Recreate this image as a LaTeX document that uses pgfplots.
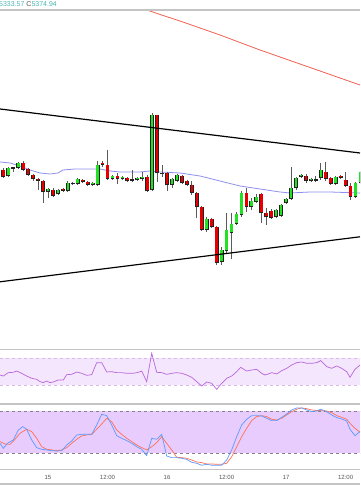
\documentclass[border=0pt]{standalone}
\usepackage{fontspec}
\setmainfont{Liberation Sans}
\usepackage{pgfplots}
\usepackage{pgfplotstable}
\pgfplotsset{compat=1.18}
\definecolor{wickc}{HTML}{5A5A5A}
\definecolor{outc}{HTML}{222222}
\definecolor{cgreen}{HTML}{22E022}
\definecolor{cred}{HTML}{E80000}
\definecolor{mablue}{HTML}{8F8FEF}
\definecolor{mared}{HTML}{F26152}
\definecolor{rsifill}{HTML}{F4E6FC}
\definecolor{rsidash}{HTML}{D9B7EA}
\definecolor{rsiline}{HTML}{B867DC}
\definecolor{stfill}{HTML}{E8CCFD}
\definecolor{stdash}{HTML}{8A7F8F}
\definecolor{stk}{HTML}{5B9BFF}
\definecolor{std}{HTML}{FF6F55}
\definecolor{framec}{HTML}{C4C4C4}
\definecolor{labc}{HTML}{555555}
\definecolor{teal}{HTML}{4DB6B6}

% candles: h = hour from day 15 00:00; t/b = body top/bottom, wt/wb = wick top/bottom (chart px, measured downward)
\pgfplotstableread{
h t b wt wb
-8 168 176 167 177
-6 163 168 162 169
0 189 192 188 198
2 190 194 189 195
4 183 191 181 192
6 179 184 178 185
9 183 185 182 186
10 165 185 161 186
13 176 179 175 180
15 177 179 176 180
18 178 180 177 181
19 177 179 172 181
21 115 190 113 191
25 179 185 178 188
26 175 181 174 182
32 219 230 217 232
35 250 262 247 265
36 230 251 213 253
37 224 233 213 259
38 214 224 212 225
39 193 215 191 217
41 201 207 198 210
42 197 202 194 203
46 210 217 209 218
47 205 216 204 217
48 199 203 198 204
49 188 199 167 200
50 178 188 177 190
51 175 177 174 178
53 179 181 178 182
55 170 178 163 180
58 177 184 176 185
62 183 197 182 198
63 172 183 171 184
}\greentab
\pgfplotstableread{
h t b wt wb
-9 170 177 168 178
-5 163 170 161 171
-4 169 175 168 176
-3 175 179 174 181
-2 179 181 178 190
-1 181 192 180 203
1 190 196 188 197
3 189 191 188 192
5 183 184 182 185
7 180 182 179 183
8 182 185 181 186
11 163 165 161 167
12 165 179 150 180
14 176 179 173 184
16 178 181 177 182
20 177 191 175 192
22 115 173 115 182
24 173 185 172 191
27 176 183 175 184
28 181 185 180 186
29 185 193 181 195
30 193 207 192 218
31 207 230 206 231
33 219 227 218 228
34 227 263 226 265
40 193 207 188 212
43 194 213 193 223
44 213 217 208 225
45 211 218 209 219
52 176 181 174 183
56 172 179 162 181
57 178 184 177 185
59 176 178 175 179
60 180 186 172 187
61 186 197 183 200
}\redtab
\pgfplotstableread{
h y wt wb
-7 168 167 172
17 180 170 182
23 173.5 165 177
54 180 176 182
}\dojitab
\pgfplotstableread{
x y
140 7.5
147 10
160 14.5
180 21
200 28
220 35
240 42.5
260 50
280 57
300 64
320 71
340 78
360 85
}\maredtab
\pgfplotstableread{
x y
0 162
10 163
20 166
30 170
40 173
50 174
58 173
63 170
75 169
100 169
110 171
120 172
140 172
150 171
160 172
180 173
200 176
220 181
240 186
260 189
280 192
290 193
310 192
330 192
360 193
}\mabluetab
\pgfplotstableread{
x v
0 44.8
3.3 43.3
8.3 48.3
13.3 48.8
16.7 50.7
21.7 47.3
26.7 43.3
31.7 39.9
36.7 38.4
40 35.0
43.3 33.5
46.7 35.9
50 33.5
53.3 34.5
58.3 37.4
63.3 37.4
66.7 45.3
71.7 45.8
76.7 49.3
81.7 47.3
86.7 44.3
91.7 45.3
96.7 63.1
101.7 63.1
106.7 49.3
111.7 49.8
116.7 48.3
121.7 48.3
126.7 47.3
133.3 47.3
138.3 48.8
141.7 50.7
146.7 35.0
151.7 76.9
156.7 48.8
161.7 48.3
166.7 45.8
171.7 47.3
176.7 48.3
181.7 47.3
186.7 44.8
191.7 41.4
196.7 35.0
201.7 28.5
206.7 34.5
211.7 32.5
216.7 23.6
221.7 32.5
226.7 39.9
231.7 43.3
236.7 49.8
240.7 56.2
246.7 50.7
251.7 52.2
256.7 53.2
261.7 47.3
265 44.8
268.3 46.3
271.7 48.3
276.7 46.3
281.7 51.2
286.7 54.7
291.7 59.6
296.7 63.1
301.7 64.1
306.7 62.1
311.7 62.1
316.7 63.1
320.7 66.1
326.7 57.2
331.7 54.7
336.7 58.2
341.7 54.7
346.7 49.8
350 41.4
355 53.2
360 59.6
}\rsitab
\pgfplotstableread{
x v
0 34.3
3.3 27.2
8.3 35.2
13.3 39.0
18.3 53.3
22.7 58.1
26.7 54.3
31.7 39.0
36.7 28.1
41.7 25.7
46.7 24.8
51.7 23.8
56.7 23.3
61.7 23.8
66.7 31.9
71.7 37.6
76.7 46.2
81.7 47.1
86.7 47.1
91.7 47.1
96.7 60.5
101.7 75.7
106.7 73.8
111.7 60.5
116.7 45.2
121.7 41.4
126.7 38.1
131.7 34.3
136.7 29.5
141.7 25.7
146.7 16.7
151.7 41.4
156.7 40.0
161.7 47.1
166.7 16.2
171.7 13.8
176.7 13.8
181.7 12.9
186.7 11.4
191.7 7.1
196.7 5.7
201.7 2.9
206.7 4.3
211.7 2.9
216.7 2.9
221.7 2.9
226.7 10.5
231.7 24.8
236.7 43.8
241.7 60.5
246.7 68.6
251.7 73.8
256.7 73.8
261.7 73.3
266.7 70.0
271.7 66.7
276.7 66.7
281.7 71.4
286.7 76.2
291.7 81.9
296.7 84.8
301.7 84.8
306.7 81.9
311.7 79.5
316.7 80.5
320.7 82.9
326.7 79.5
331.7 74.8
336.7 71.0
341.7 69.0
346.7 66.2
350 54.3
355 45.2
360 51.0
}\stktab
\pgfplotstableread{
x v
0 36.7
5 33.3
10 32.9
15 40.0
20 48.6
26.7 54.3
31.7 51.0
36.7 41.4
41.7 29.5
46.7 25.7
51.7 24.8
56.7 23.8
61.7 24.8
66.7 28.1
71.7 34.3
76.7 40.0
81.7 44.8
86.7 46.2
91.7 47.1
96.7 54.3
101.7 61.9
106.7 70.0
111.7 65.2
116.7 53.3
121.7 47.1
126.7 41.4
131.7 36.7
136.7 31.9
141.7 28.1
146.7 24.8
151.7 29.5
156.7 35.2
161.7 43.8
166.7 34.3
171.7 24.8
176.7 14.3
181.7 13.8
186.7 12.9
191.7 10.5
196.7 7.6
201.7 6.7
206.7 4.8
211.7 4.8
216.7 4.3
221.7 4.3
226.7 5.7
231.7 15.2
236.7 29.5
241.7 43.8
246.7 55.7
251.7 66.7
256.7 72.4
261.7 73.8
266.7 72.4
271.7 68.6
276.7 67.6
281.7 70.0
286.7 74.8
291.7 79.5
296.7 82.9
301.7 84.8
306.7 83.8
311.7 81.9
316.7 81.0
320.7 81.0
326.7 80.5
331.7 78.1
336.7 73.8
341.7 71.4
346.7 68.6
350 62.9
355 55.7
360 50.0
}\stdtab

\newcommand{\candles}[2]{%
  \addplot [draw=none, forget plot, error bars/.cd, y dir=plus, y explicit, error mark=none,
    error bar style={line width=0.7pt, draw=wickc}]
    table [x expr=48+4.96*\thisrow{h}, y expr=-\thisrow{wb}, y error plus expr=\thisrow{wb}-\thisrow{wt}] {#1};
  \addplot [draw=none, forget plot, error bars/.cd, y dir=plus, y explicit, error mark=none,
    error bar style={line width=3.8pt, draw=outc}]
    table [x expr=48+4.96*\thisrow{h}, y expr=-\thisrow{b}-0.4, y error plus expr=\thisrow{b}-\thisrow{t}+0.8] {#1};
  \addplot [draw=none, forget plot, error bars/.cd, y dir=plus, y explicit, error mark=none,
    error bar style={line width=2.6pt, draw=#2}]
    table [x expr=48+4.96*\thisrow{h}, y expr=-\thisrow{b}+0.5, y error plus expr=\thisrow{b}-\thisrow{t}-1] {#1};
}

\begin{document}
\begin{tikzpicture}[x=1pt,y=1pt]
\fill[white] (0,0) rectangle (360,504);

% one axis: y = minus chart pixel row; RSI and stochastic mapped into their panels
\begin{axis}[scale only axis, width=360pt, height=494pt, at={(0,0)}, anchor=south west,
  xmin=0, xmax=360, ymin=-504, ymax=-10,
  axis line style={draw=none}, ytick=\empty, major tick length=0pt, clip=true,
  xtick={48,107.5,167,226.6,286.1,345.6},
  xticklabels={15,12:00,16,12:00,17,12:00},
  xtick style={draw=none},
  xticklabel style={font=\fontsize{6}{7}\selectfont, text=labc, anchor=center, yshift=27pt}]
  % ---- main price panel ----
  \addplot [mablue, line width=0.8pt, mark=none] table [x=x, y expr=-\thisrow{y}] {\mabluetab};
  \addplot [mared, line width=0.8pt, mark=none] table [x=x, y expr=-\thisrow{y}] {\maredtab};
  \candles{\greentab}{cgreen}
  \candles{\redtab}{cred}
  \addplot [draw=none, forget plot, error bars/.cd, y dir=plus, y explicit, error mark=none,
    error bar style={line width=0.7pt, draw=wickc}]
    table [x expr=48+4.96*\thisrow{h}, y expr=-\thisrow{wb}, y error plus expr=\thisrow{wb}-\thisrow{wt}] {\dojitab};
  \addplot [draw=none, forget plot, error bars/.cd, y dir=plus, y explicit, error mark=none,
    error bar style={line width=3.8pt, draw=outc}]
    table [x expr=48+4.96*\thisrow{h}, y expr=-\thisrow{y}-0.6, y error plus expr=1.2] {\dojitab};
  \addplot [black, line width=1.2pt, mark=none] coordinates {(0,-109) (360,-153)};
  \addplot [black, line width=1.2pt, mark=none] coordinates {(0,-281.8) (360,-236.8)};
  % ---- RSI panel (70 at row 358, 30 at row 385) ----
  \addplot [draw=none, fill=rsifill, mark=none] coordinates {(0,-385) (360,-385) (360,-358) (0,-358)} -- cycle;
  \addplot [rsidash, dashed, line width=0.7pt, mark=none] coordinates {(0,-358) (360,-358)};
  \addplot [rsidash, dashed, line width=0.7pt, mark=none] coordinates {(0,-385) (360,-385)};
  \addplot [rsiline, line width=0.7pt, mark=none] table [x=x, y expr=-385+(\thisrow{v}-30)*0.675] {\rsitab};
  % ---- Stochastic panel (80 at row 411.3, 20 at row 453.3) ----
  \addplot [draw=none, fill=stfill, mark=none] coordinates {(0,-453.3) (360,-453.3) (360,-411.3) (0,-411.3)} -- cycle;
  \addplot [stdash, dashed, line width=0.7pt, mark=none] coordinates {(0,-411.3) (360,-411.3)};
  \addplot [stdash, dashed, line width=0.7pt, mark=none] coordinates {(0,-453.3) (360,-453.3)};
  \addplot [std, line width=0.7pt, mark=none] table [x=x, y expr=-453.3+(\thisrow{v}-20)*0.7] {\stdtab};
  \addplot [stk, line width=0.7pt, mark=none] table [x=x, y expr=-453.3+(\thisrow{v}-20)*0.7] {\stktab};
\end{axis}

% ---------- frame lines ----------
\draw[framec, line width=1.4pt] (0,494) -- (360,494);
\draw[framec, line width=1.4pt] (0,154.3) -- (360,154.3);
\draw[framec, line width=1.4pt] (0,100) -- (360,100);
\draw[framec, line width=1.4pt] (0,34.7) -- (360,34.7);
\draw[framec, line width=1.4pt] (0,20) -- (360,20);

% header text
\node[anchor=base west, inner sep=0pt, font=\fontsize{7}{8}\selectfont, text=teal]
  at (-1,497.5) {5333.57 {\color{labc}C}5374.94};

\pgfresetboundingbox
\useasboundingbox (0,0) rectangle (360,504);
\end{tikzpicture}
\end{document}
